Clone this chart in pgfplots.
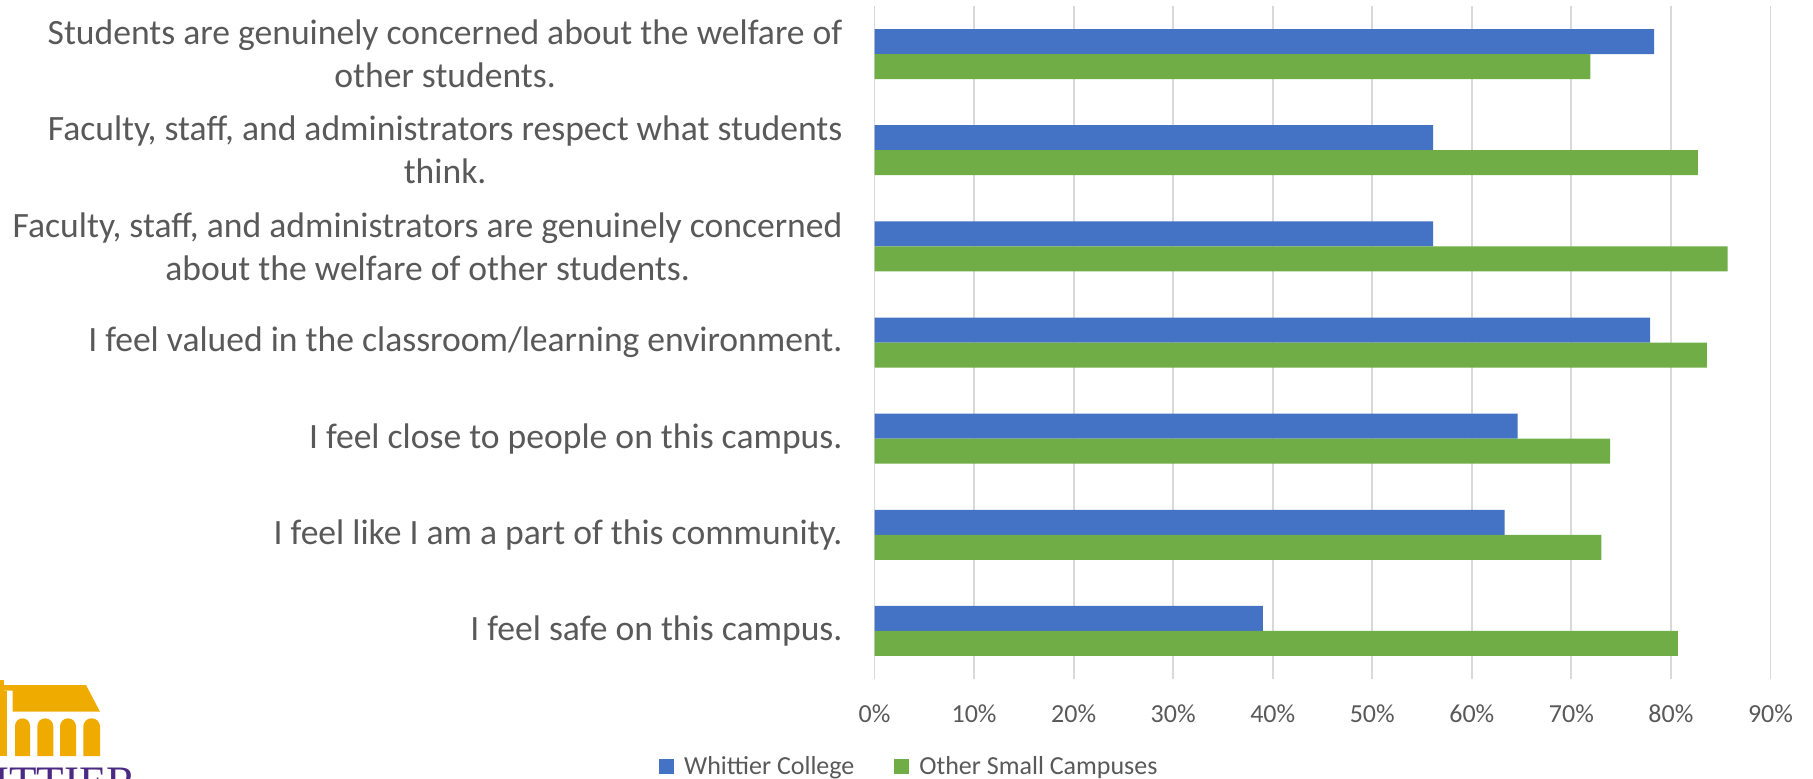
\documentclass[border=0pt]{standalone}
\usepackage{pgfplots}
\pgfplotsset{compat=1.18}
\usepackage{fontspec}
\setmainfont{Carlito}
\newfontfamily\logofont{Liberation Serif}

\definecolor{wcblue}{HTML}{4472C4}
\definecolor{osgreen}{HTML}{70AD47}
\definecolor{txtgray}{HTML}{595959}
\definecolor{gridgray}{HTML}{D9D9D9}
\definecolor{logogold}{HTML}{F0AB00}
\definecolor{logopurple}{HTML}{4B2A84}

\begin{document}
\begin{tikzpicture}
  \path[use as bounding box] (0,0) rectangle (906.5pt,389pt);
  \begin{axis}[
      at={(437.25pt,49.5pt)}, anchor=south west,
      width=448pt, height=336.5pt, scale only axis,
      xbar, bar width=12.5pt,
      xmin=0, xmax=90, ymin=-0.5, ymax=6.5,
      xtick={0,10,...,90},
      xticklabel={\pgfmathprintnumber{\tick}\%},
      /pgf/number format/assume math mode=true,
      ytick={0,...,6},
      yticklabels={
        {I feel safe on this campus.},
        {I feel like I am a part of this community.},
        {I feel close to people on this campus.},
        {I feel valued in the classroom/learning environment.},
        {Faculty, staff, and administrators are genuinely concerned\\about the welfare of other students.},
        {Faculty, staff, and administrators respect what students\\think.},
        {Students are genuinely concerned about the welfare of\\other students.}
      },
      axis line style={draw=none},
      major tick length=0pt,
      xmajorgrids,
      major grid style={gridgray, line width=0.9pt},
      xticklabel style={font=\fontsize{13}{15.6}\selectfont, text=txtgray, yshift=-9.5pt},
      yticklabel style={font=\fontsize{17.8}{21.5}\selectfont, text=txtgray, align=center, xshift=-12.5pt},
      legend style={at={(0.04,-0.13)}, anchor=center, draw=none, fill=none,
        font=\fontsize{13}{15.6}\selectfont, text=txtgray,
        /tikz/every odd column/.append style={column sep=3pt},
        /tikz/every even column/.append style={column sep=18pt}},
      legend columns=2,
      legend image code/.code={\fill[#1] (0pt,-3.75pt) rectangle (7.5pt,3.75pt);},
    ]
    \addplot[fill=wcblue, draw=none, bar shift=6.25pt] coordinates {
      (39.0,0) (63.3,1) (64.6,2) (77.9,3) (56.1,4) (56.1,5) (78.3,6)
    };
    \addplot[fill=osgreen, draw=none, bar shift=-6.25pt] coordinates {
      (80.7,0) (73.0,1) (73.9,2) (83.6,3) (85.7,4) (82.7,5) (71.9,6)
    };
    \legend{Whittier College, Other Small Campuses}
  \end{axis}

  % logo in the lower left corner, partly cut off by the page edge
  \fill[logogold] (1.5pt,46.5pt) -- (43pt,46.5pt) -- (50pt,33.15pt) -- (6.35pt,33.15pt)
    -- (6.35pt,43.65pt) -- (1.5pt,43.65pt) -- cycle;
  \fill[logogold] (0pt,11pt) rectangle (3.65pt,43.65pt);
  \fill[logogold] (0pt,43.5pt) rectangle (2pt,49pt);
  \fill[logogold] (7.5pt,11pt) -- (7.5pt,26.1pt) arc[start angle=180,end angle=0,radius=3.75pt] -- (15pt,11pt) -- cycle;
  \fill[logogold] (18.65pt,11pt) -- (18.65pt,25.85pt) arc[start angle=180,end angle=0,radius=4pt] -- (26.65pt,11pt) -- cycle;
  \fill[logogold] (30pt,11pt) -- (30pt,25.85pt) arc[start angle=180,end angle=0,radius=4pt] -- (38pt,11pt) -- cycle;
  \fill[logogold] (41.65pt,11pt) -- (41.65pt,25.7pt) arc[start angle=180,end angle=0,radius=4.175pt] -- (50pt,11pt) -- cycle;
  \node[anchor=base east, inner sep=0pt, text=logopurple,
    font=\logofont\fontsize{22.5}{27}\selectfont] at (68.5pt,-9.5pt) {WHITTIER};
\end{tikzpicture}
\end{document}
